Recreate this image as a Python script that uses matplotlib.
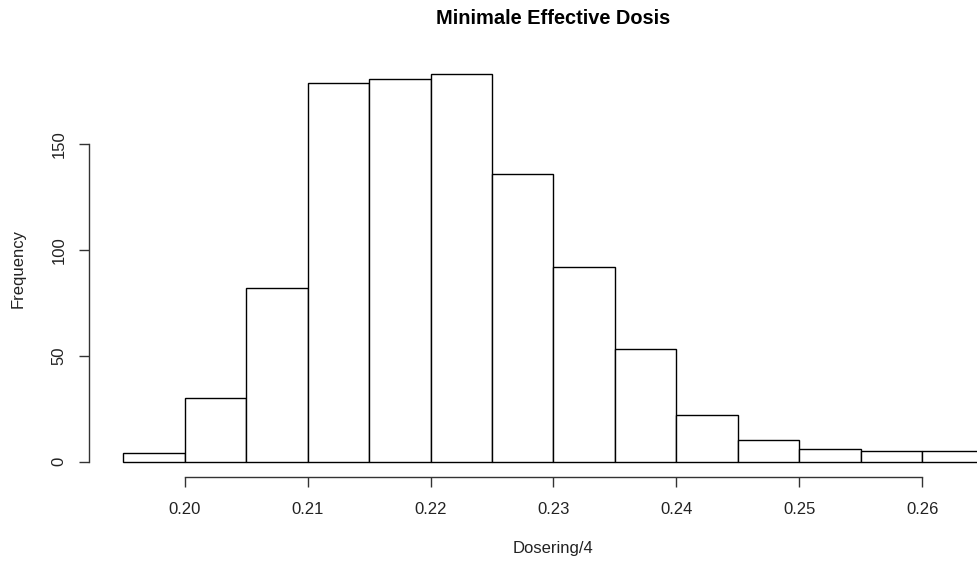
import numpy as np
from matplotlib import pyplot as plt

plt.rcParams['font.family'] = ['Liberation Sans', 'DejaVu Sans']

# histogram of Dosering/4, bins of width 0.005
bin_edges = [0.195, 0.200, 0.205, 0.210, 0.215, 0.220, 0.225, 0.230,
             0.235, 0.240, 0.245, 0.250, 0.255, 0.260, 0.265]
counts = [4, 30, 82, 179, 181, 183, 136, 92, 53, 22, 10, 6, 5, 5]
x_ticks = [0.20, 0.21, 0.22, 0.23, 0.24, 0.25, 0.26]
x_tick_labels = ['0.20', '0.21', '0.22', '0.23', '0.24', '0.25', '0.26']
y_ticks = [0, 50, 100, 150]

fig = plt.figure(figsize=(9.78, 5.64), dpi=100)
# plot region runs past the right edge, like the R device did
ax = fig.add_axes([89 / 978, 87 / 564, (1018 - 89) / 978, (477 - 59) / 564])

edges = np.array(bin_edges)
ax.bar(edges[:-1], counts, width=np.diff(edges), align='edge',
       facecolor='white', edgecolor='black', linewidth=1.0)

# R style: 4% padding around the data range
xr = edges[-1] - edges[0]
ax.set_xlim(edges[0] - 0.04 * xr, edges[-1] + 0.04 * xr)
ymax = max(counts)
ax.set_ylim(-0.04 * ymax, 1.04 * ymax)

for s in ['top', 'right']:
    ax.spines[s].set_visible(False)
ax.spines['bottom'].set_bounds(x_ticks[0], x_ticks[-1])
ax.spines['left'].set_bounds(y_ticks[0], y_ticks[-1])
for s in ['bottom', 'left']:
    ax.spines[s].set_color('#333333')
    ax.spines[s].set_linewidth(1.0)

ax.set_xticks(x_ticks)
ax.set_xticklabels(x_tick_labels)
ax.set_yticks(y_ticks)
ax.set_yticklabels([str(v) for v in y_ticks], rotation=90, va='center')
ax.tick_params(axis='both', length=7, width=1.0, color='#333333',
               labelsize=12, labelcolor='#222222')
ax.tick_params(axis='x', pad=11)
ax.tick_params(axis='y', pad=9)

fig.text(553 / 978, 1 - 19 / 564, 'Minimale Effective Dosis', ha='center',
         va='center', fontsize=14.4, fontweight='bold', color='black')
fig.text(553 / 978, 1 - 549 / 564, 'Dosering/4', ha='center', va='center',
         fontsize=12, color='#222222')
fig.text(18 / 978, 1 - 268 / 564, 'Frequency', ha='center', va='center',
         rotation=90, fontsize=12, color='#222222')

plt.savefig('out.png', dpi=100)
